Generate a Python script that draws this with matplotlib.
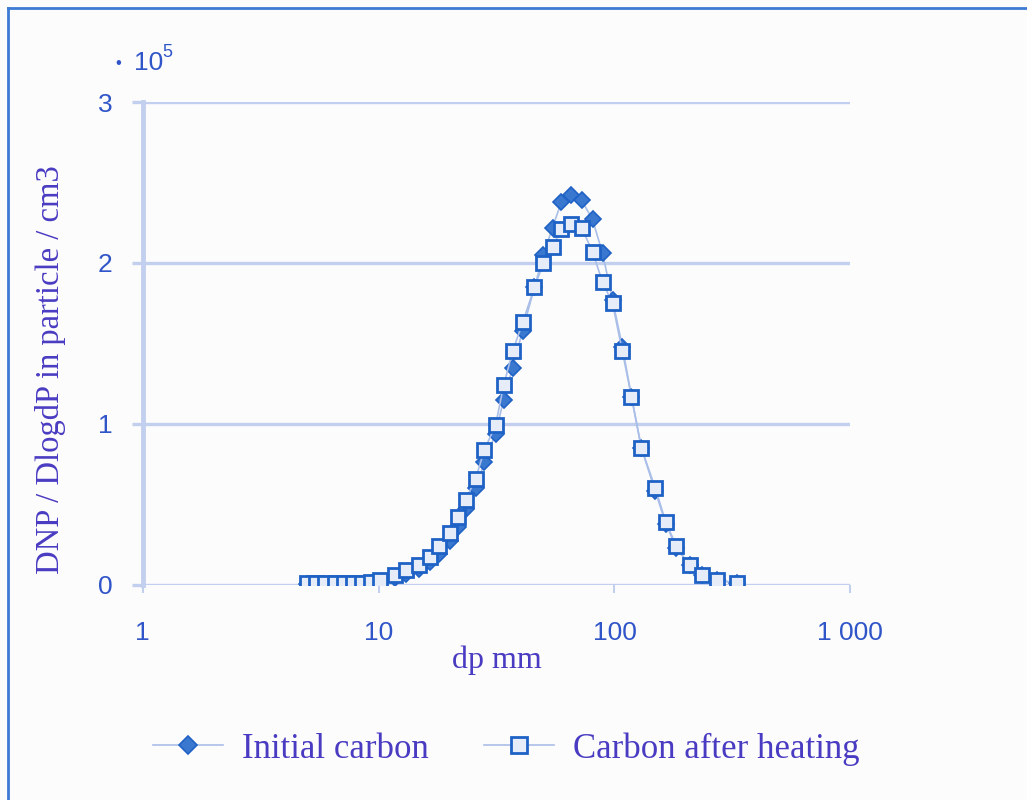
import matplotlib
matplotlib.use("Agg")
import matplotlib.pyplot as plt
from matplotlib.lines import Line2D

# particle diameter (dp) and DNP/DlogdP values, in units of 1e5
dp = [4.95, 5.41, 5.90, 6.51, 7.11, 7.76, 8.47, 9.25, 10.1, 11.7, 13.1, 14.9,
      16.5, 18.1, 20.0, 21.6, 23.4, 25.8, 28.1, 31.3, 33.9, 37.0, 40.8, 45.8,
      50.0, 54.6, 59.6, 65.7, 72.5, 80.7, 89.0, 98.1, 108, 118, 130, 149,
      165, 183, 208, 236, 273, 332]
initial_carbon = [0.005, 0.005, 0.005, 0.005, 0.005, 0.005, 0.005, 0.01, 0.02,
                  0.04, 0.07, 0.10, 0.14, 0.19, 0.27, 0.36, 0.47, 0.60, 0.76,
                  0.94, 1.15, 1.35, 1.58, 1.85, 2.05, 2.22, 2.38, 2.42, 2.39,
                  2.27, 2.06, 1.77, 1.48, 1.17, 0.85, 0.58, 0.38, 0.23, 0.12,
                  0.06, 0.03, 0.01]
after_heating = [0.012, 0.012, 0.012, 0.012, 0.012, 0.012, 0.012, 0.015, 0.03,
                 0.06, 0.09, 0.12, 0.17, 0.24, 0.32, 0.42, 0.53, 0.66, 0.84,
                 0.99, 1.24, 1.45, 1.63, 1.85, 2.00, 2.10, 2.21, 2.24, 2.22,
                 2.07, 1.88, 1.75, 1.45, 1.17, 0.85, 0.60, 0.39, 0.24, 0.12,
                 0.06, 0.03, 0.01]

xticks = [1, 10, 100, 1000]
xticklabels = ['1', '10', '100', '1 000']
yticks = [0, 1, 2, 3]

sans = 'Liberation Sans'
serif = 'Liberation Serif'
tick_size = 19

grid_c = '#c3cfee'
tick_c = '#2f55c8'
label_c = '#4a3cc2'
mark_c = '#1f62c6'
line_c = '#a9bee8'

fig = plt.figure(figsize=(10.27, 8), dpi=100, facecolor='#fdfcfc')
ax = fig.add_axes([0.139, 0.269, 0.689, 0.6035])
ax.set_facecolor('#fdfcfc')

ax.plot(dp, initial_carbon, color=line_c, lw=1.2, marker='D', ms=8,
        mfc='#3a78d0', mec=mark_c, mew=1.2, label='Initial carbon', zorder=3)
ax.plot(dp, after_heating, color=line_c, lw=1.2, marker='s', ms=10.5,
        mfc='#e6edf9', mec=mark_c, mew=2.0, label='Carbon after heating', zorder=4)

ax.set_xscale('log')
ax.set_xlim(1, 1000)
ax.set_ylim(0, 3)
ax.set_xticks(xticks)
ax.set_xticklabels(xticklabels)
ax.set_xticks([], minor=True)
ax.set_yticks(yticks)
ax.grid(axis='y', color=grid_c, lw=2.4)
ax.set_axisbelow(True)
for s in ['top', 'right', 'bottom']:
    ax.spines[s].set_visible(False)
ax.spines['left'].set_color(grid_c)
ax.spines['left'].set_linewidth(3.5)

ax.tick_params(axis='y', length=8, width=2.4, color=grid_c, pad=14,
               labelsize=tick_size, labelcolor=tick_c)
ax.tick_params(axis='x', length=6, width=1.5, color=grid_c, pad=20,
               labelsize=tick_size, labelcolor=tick_c)
for t in ax.get_xticklabels() + ax.get_yticklabels():
    t.set_fontfamily(sans)

ax.set_xlabel('dp mm', fontfamily=serif, fontsize=23, color=label_c)
ax.xaxis.set_label_coords(0.5, -0.125)
ax.set_ylabel('DNP / DlogdP in particle / cm3', fontfamily=serif, fontsize=23.5,
              color=label_c)
ax.yaxis.set_label_coords(-0.108, 0.445)

# scale factor label
fig.text(0.112, 0.921, '\u2022', fontfamily=sans, fontsize=12,
         color=tick_c, va='center')
fig.text(0.130, 0.921, '10', fontfamily=sans, fontsize=19,
         color=tick_c, va='center')
fig.text(0.1585, 0.934, '5', fontfamily=sans, fontsize=13,
         color=tick_c, va='center')

fig.legend(loc='center', bbox_to_anchor=(0.493, 0.064), ncol=2, frameon=False,
           prop={'family': serif, 'size': 25}, labelcolor=label_c,
           handlelength=2.0, handletextpad=0.55, columnspacing=1.6,
           markerscale=1.1)

# outer frame (left and top edges visible)
fig.add_artist(Line2D([0.008, 0.008], [0, 0.99], color='#3d7bd4', lw=2))
fig.add_artist(Line2D([0.008, 1], [0.99, 0.99], color='#3d7bd4', lw=2))

fig.savefig('out.png', dpi=100, facecolor=fig.get_facecolor())
